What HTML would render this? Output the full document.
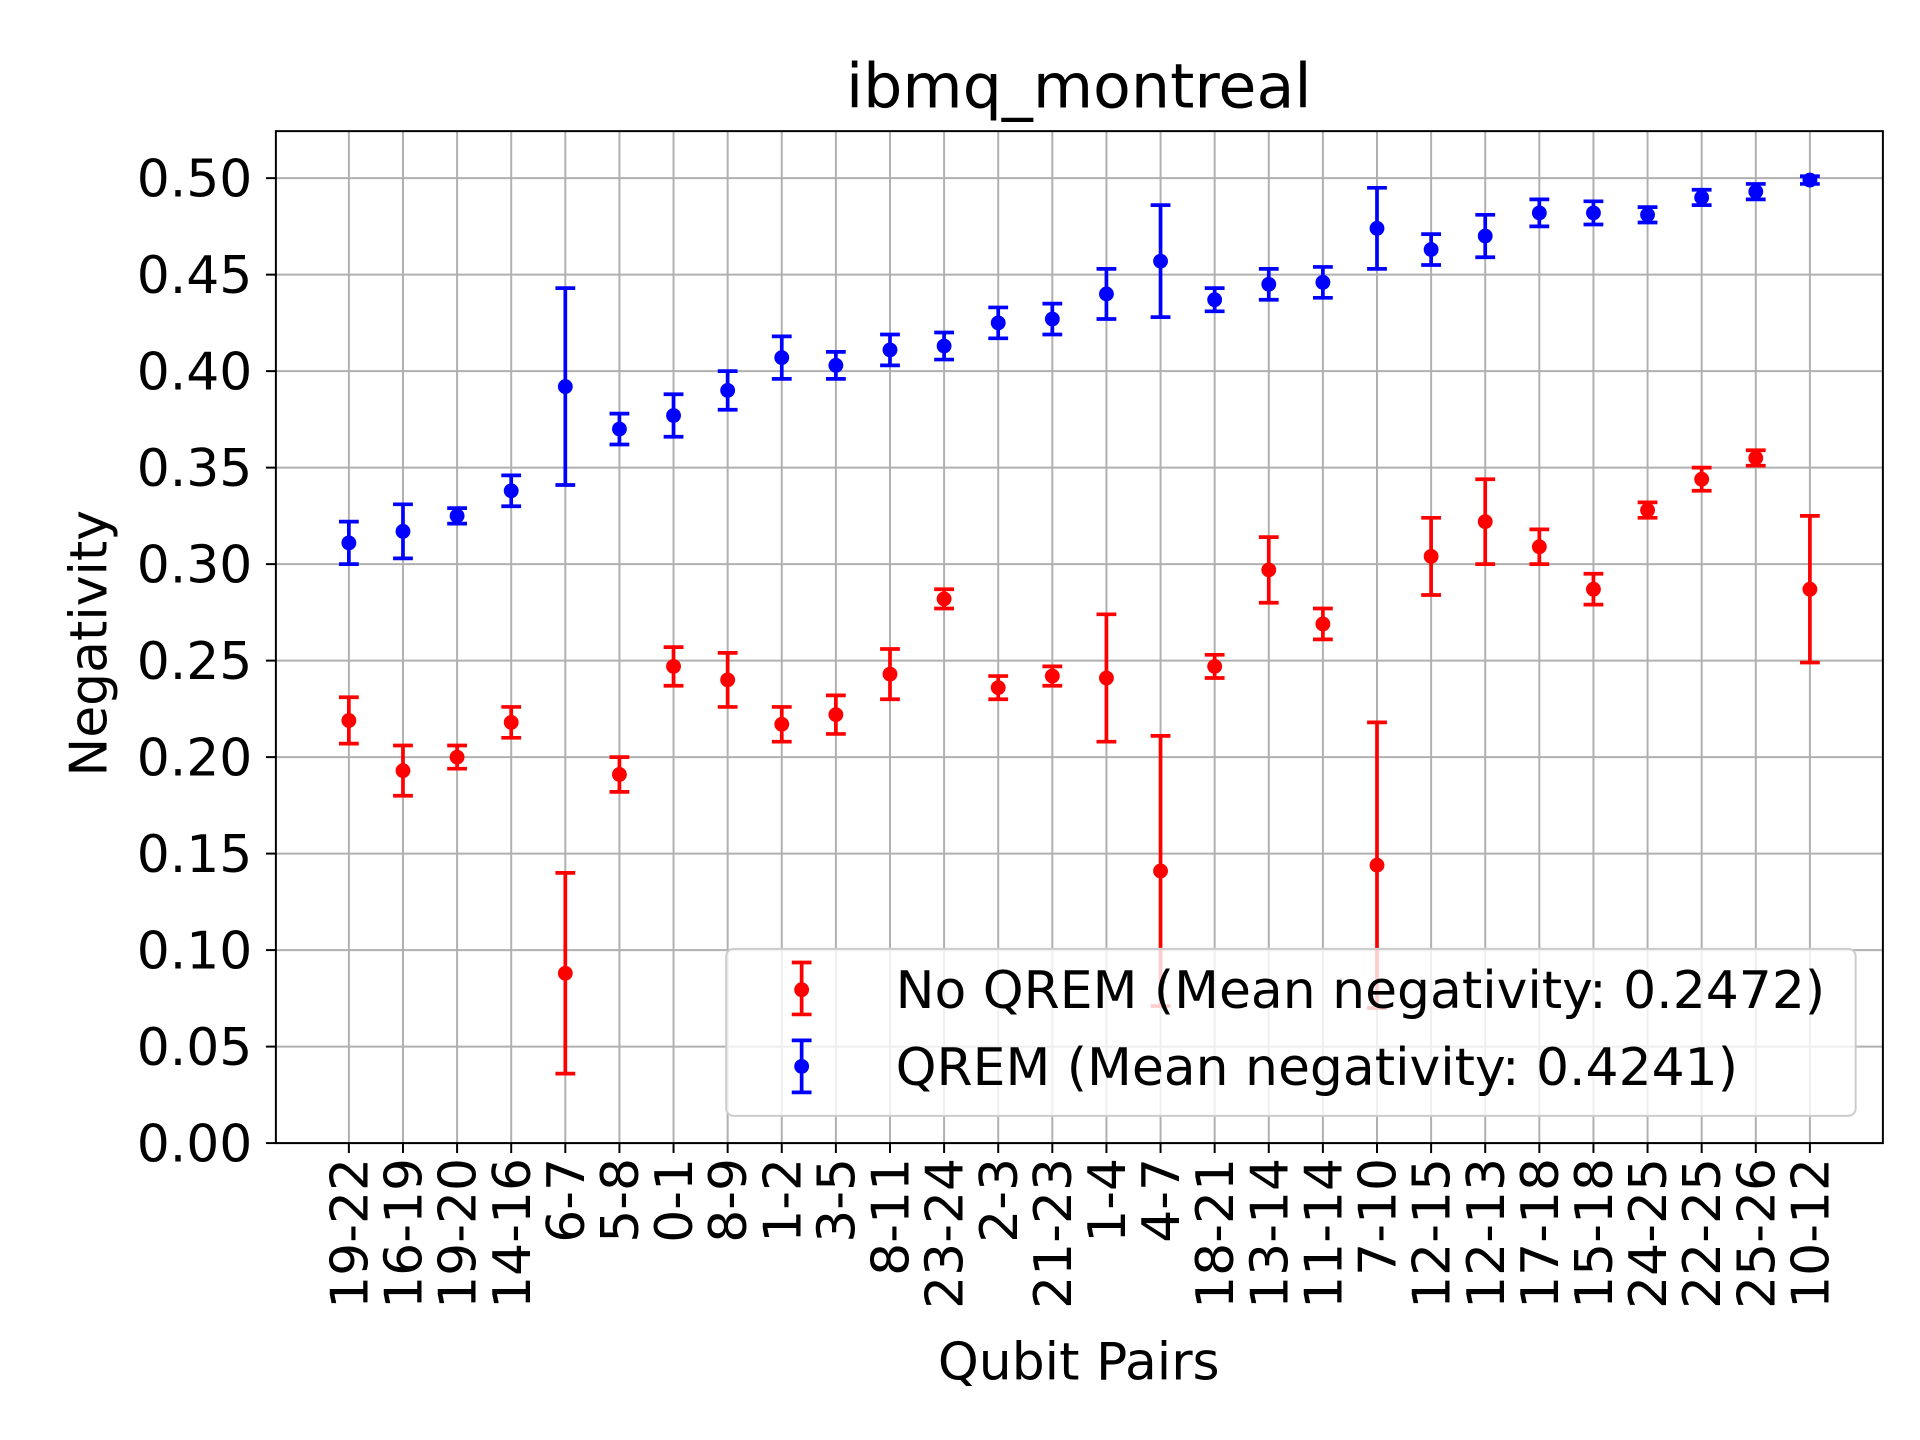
<!DOCTYPE html>
<html><head><meta charset="utf-8"><style>html,body{margin:0;padding:0;background:#fff}svg{display:block}</style></head>
<body>
<svg id="chart" width="1920" height="1440" viewBox="0 0 1552 1164" preserveAspectRatio="none" xmlns="http://www.w3.org/2000/svg" font-family="'DejaVu Sans','Liberation Sans',sans-serif">
<rect width="1552" height="1164" fill="#fff"/>
<g id="grid"></g>
<g id="marks"></g>
<rect x="223" y="106" width="1299" height="818" fill="none" stroke="#000" stroke-width="1.6"/>
<g id="ticks"></g>
<text x="872" y="87" font-size="50" text-anchor="middle">ibmq_montreal</text>
<text x="872" y="1115" font-size="42" text-anchor="middle">Qubit Pairs</text>
<text transform="translate(86,520) rotate(-90)" font-size="42" text-anchor="middle">Negativity</text>
<g>
<rect x="587" y="767" width="913" height="135" rx="6" fill="#fff" fill-opacity="0.8" stroke="#ccc" stroke-width="1.6"/>
<g>
<line x1="648" y1="778" x2="648" y2="820" stroke="red" stroke-width="3"/><line x1="640" y1="778" x2="656" y2="778" stroke="red" stroke-width="3"/><line x1="640" y1="820" x2="656" y2="820" stroke="red" stroke-width="3"/><circle cx="648" cy="800" r="6" fill="red"/>
<text x="724" y="815" font-size="42">No QREM (Mean negativity: 0.2472)</text></g>
<g>
<line x1="648" y1="841" x2="648" y2="883" stroke="blue" stroke-width="3"/><line x1="640" y1="841" x2="656" y2="841" stroke="blue" stroke-width="3"/><line x1="640" y1="883" x2="656" y2="883" stroke="blue" stroke-width="3"/><circle cx="648" cy="862" r="6" fill="blue"/>
<text x="724" y="877" font-size="42">QREM (Mean negativity: 0.4241)</text></g>
</g>
</svg>
<script>
const categories=["19-22","16-19","19-20","14-16","6-7","5-8","0-1","8-9","1-2","3-5","8-11","23-24","2-3","21-23","1-4","4-7","18-21","13-14","11-14","7-10","12-15","12-13","17-18","15-18","24-25","22-25","25-26","10-12"];
const noQremValues=[0.219,0.193,0.200,0.218,0.088,0.191,0.247,0.240,0.217,0.222,0.243,0.282,0.236,0.242,0.241,0.141,0.247,0.297,0.269,0.144,0.304,0.322,0.309,0.287,0.328,0.344,0.355,0.287];
const noQremErrors=[0.012,0.013,0.006,0.008,0.052,0.009,0.010,0.014,0.009,0.010,0.013,0.005,0.006,0.005,0.033,0.070,0.006,0.017,0.008,0.074,0.020,0.022,0.009,0.008,0.004,0.006,0.004,0.038];
const qremValues=[0.311,0.317,0.325,0.338,0.392,0.370,0.377,0.390,0.407,0.403,0.411,0.413,0.425,0.427,0.440,0.457,0.437,0.445,0.446,0.474,0.463,0.470,0.482,0.482,0.481,0.490,0.493,0.499];
const qremErrors=[0.011,0.014,0.004,0.008,0.051,0.008,0.011,0.010,0.011,0.007,0.008,0.007,0.008,0.008,0.013,0.029,0.006,0.008,0.008,0.021,0.008,0.011,0.007,0.006,0.004,0.004,0.004,0.002];
const yTicks=[0,0.05,0.1,0.15,0.2,0.25,0.3,0.35,0.4,0.45,0.5];
const yTickLabels=["0.00","0.05","0.10","0.15","0.20","0.25","0.30","0.35","0.40","0.45","0.50"];

const NS="http://www.w3.org/2000/svg";
const x0=282,x1=1463,py0=924,py1=144;
function xScale(i){return x0+i*(x1-x0)/(categories.length-1);}
function yScale(v){return py0+(py1-py0)*v/0.5;}
function mk(tag,attrs,parent){const e=document.createElementNS(NS,tag);for(const k in attrs)e.setAttribute(k,attrs[k]);parent.appendChild(e);return e;}
const grid=document.getElementById('grid'),ticks=document.getElementById('ticks'),marks=document.getElementById('marks');
yTicks.forEach((v,i)=>{
  const y=yScale(v);
  const g=mk('line',{x1:223,x2:1522,y1:y,y2:y,stroke:'#b0b0b0','stroke-width':1.6},grid);
  
  
  const t=mk('line',{x1:215,x2:223,y1:y,y2:y,stroke:'#000','stroke-width':1.6},ticks);
  
  
  const l=mk('text',{x:204,y:y+15,'font-size':42,'text-anchor':'end'},ticks);
  l.textContent=yTickLabels[i];
  
  
});
categories.forEach((c,i)=>{
  const x=xScale(i);
  const g=mk('line',{x1:x,x2:x,y1:106,y2:924,stroke:'#b0b0b0','stroke-width':1.6},grid);
  
  
  const t=mk('line',{x1:x,x2:x,y1:924,y2:932,stroke:'#000','stroke-width':1.6},ticks);
  
  
  const l=mk('text',{transform:`translate(${x+15},936) rotate(-90)`,'font-size':42,'text-anchor':'end'},ticks);
  l.textContent=c;
  
  
});
function series(vals,errs,color,name){
  vals.forEach((v,i)=>{
    const x=xScale(i),yt=yScale(v+errs[i]),yb=yScale(v-errs[i]);
    const g=mk('g',{},marks);
    
    
    mk('line',{x1:x,x2:x,y1:yt,y2:yb,stroke:color,'stroke-width':3},g);
    mk('line',{x1:x-8,x2:x+8,y1:yt,y2:yt,stroke:color,'stroke-width':3},g);
    mk('line',{x1:x-8,x2:x+8,y1:yb,y2:yb,stroke:color,'stroke-width':3},g);
    mk('circle',{cx:x,cy:yScale(v),r:6,fill:color},g);
  });
}
series(noQremValues,noQremErrors,'red','no-qrem');
series(qremValues,qremErrors,'blue','qrem');
</script>
</body></html>
